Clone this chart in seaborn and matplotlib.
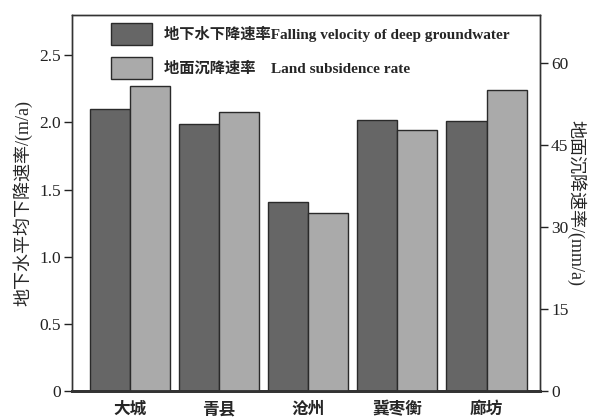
import matplotlib
matplotlib.use("Agg")
import matplotlib.pyplot as plt
import seaborn as sns
import pandas as pd
from matplotlib.patches import Patch

cities = ["大城", "青县", "沧州", "冀枣衡", "廊坊"]
groundwater = [2.10, 1.99, 1.41, 2.02, 2.01]      # m/a (left axis)
subsidence = [55.8, 51.0, 32.5, 47.8, 55.0]       # mm/a (right axis)
left_ticks = [0, 0.5, 1.0, 1.5, 2.0, 2.5]
left_ticklabels = ["0", "0.5", "1.0", "1.5", "2.0", "2.5"]
right_ticks = [0, 15, 30, 45, 60]
lab_gw = "地下水下降速率Falling velocity of deep groundwater"
lab_ls = "地面沉降速率    Land subsidence rate"
ylabel_left = "地下水平均下降速率/(m/a)"
ylabel_right = "地面沉降速率/(mm/a)"

sns.set_style("ticks")
FAM = ["Liberation Serif", "Noto Sans CJK SC"]
plt.rcParams["font.family"] = FAM

dark = "#666666"
light = "#aaaaaa"
edge = "#2a2a2a"

df_gw = pd.DataFrame({"city": cities, "val": groundwater, "series": "gw"})
df_ls = pd.DataFrame({"city": cities, "val": subsidence, "series": "ls"})

fig = plt.figure(figsize=(5.93, 4.18), dpi=100)
ax = fig.add_axes([0.1214, 0.0646, 0.7892, 0.8995])
ax2 = ax.twinx()

pal = {"gw": dark, "ls": light}
sns.barplot(data=df_gw, x="city", y="val", hue="series", hue_order=["gw", "ls"],
            order=cities, palette=pal, ax=ax, width=0.9, edgecolor=edge, dodge=True,
            linewidth=1.0, legend=False, saturation=1)
sns.barplot(data=df_ls, x="city", y="val", hue="series", hue_order=["gw", "ls"],
            order=cities, palette=pal, ax=ax2, width=0.9, edgecolor=edge, dodge=True,
            linewidth=1.0, legend=False, saturation=1)

ax.set_xlim(-0.65, 4.6)
ax.set_ylim(0, 2.8)
ax2.set_ylim(0, 68.8)

ax.set_yticks(left_ticks)
ax.set_yticklabels(left_ticklabels, fontsize=12.5, family=FAM)
ax2.set_yticks(right_ticks)
ax2.set_yticklabels([str(t) for t in right_ticks], fontsize=12.5, family=FAM)
ax.set_xticks(range(len(cities)))
ax.set_xticklabels(cities, fontsize=12, family=FAM, fontweight="bold")
ax.tick_params(axis="x", length=0, pad=8)
ax.tick_params(axis="y", direction="out", length=6, width=1, pad=2, colors="#222222")
ax2.tick_params(axis="y", direction="out", length=6, width=1, pad=2, colors="#222222")

ax.set_xlabel("")
ax.set_ylabel(ylabel_left, fontsize=13, family=FAM, labelpad=5)
ax2.set_ylabel(ylabel_right, fontsize=13, family=FAM, rotation=-90, labelpad=13)

for a in (ax, ax2):
    for s in a.spines.values():
        s.set_color("#333333")
        s.set_linewidth(1.0)
ax.spines["bottom"].set_linewidth(2.0)
ax2.spines["bottom"].set_linewidth(2.0)

handles = [Patch(facecolor=dark, edgecolor=edge, linewidth=1.0),
           Patch(facecolor=light, edgecolor=edge, linewidth=1.0)]
leg = ax2.legend(handles, [lab_gw, lab_ls], loc="upper left",
                 bbox_to_anchor=(0.0705, 0.995), borderaxespad=0, frameon=False,
                 handlelength=2.7, handleheight=1.85, handletextpad=0.75,
                 labelspacing=0.75, prop={"family": FAM, "size": 11})
for t in leg.get_texts():
    t.set_fontweight("bold")

fig.savefig("out.png", dpi=100)
